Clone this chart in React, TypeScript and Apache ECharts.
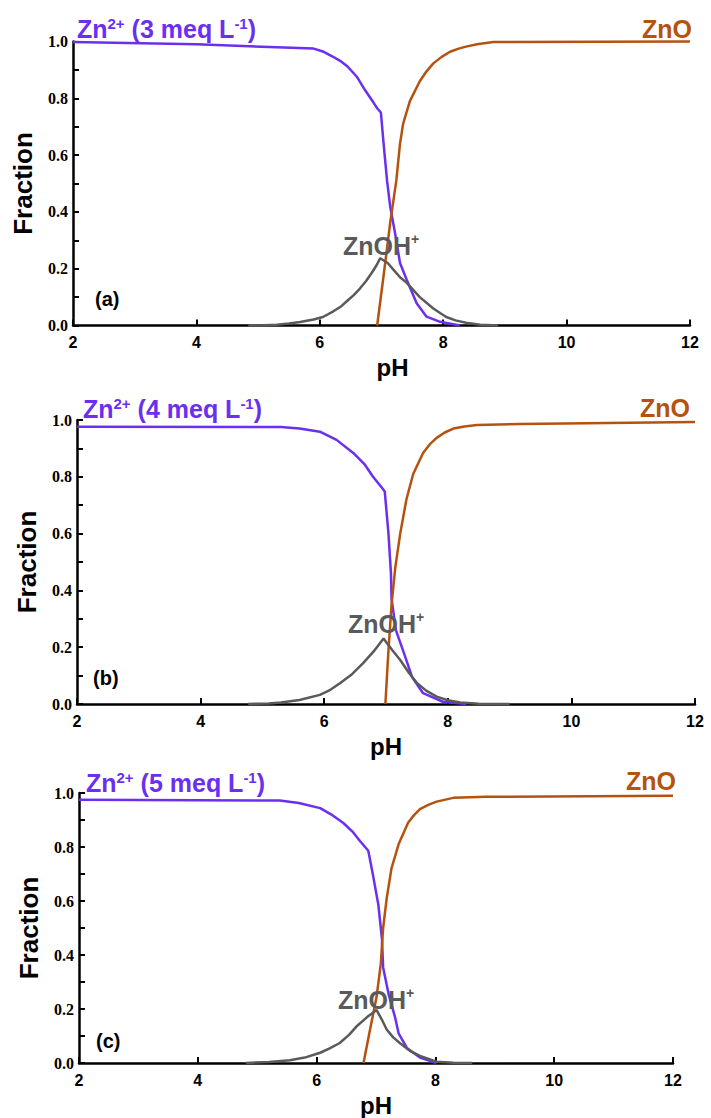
import React, { useEffect, useRef } from 'react';
import * as echarts from 'echarts';

// ---------- data (pH, fraction) ----------
const X_TICKS = [2, 4, 6, 8, 10, 12];
const Y_TICKS = [0, 0.2, 0.4, 0.6, 0.8, 1.0];

// Panel (a) 3 meq/L
const phZnA = [2, 4, 5.9, 6.05, 6.2, 6.33, 6.45, 6.6, 6.73, 6.87, 6.93, 6.99, 7.03, 7.09, 7.14, 7.22, 7.3, 7.41, 7.57, 7.73, 7.95, 8.27];
const znA = [0.998, 0.99, 0.975, 0.965, 0.948, 0.932, 0.912, 0.876, 0.83, 0.785, 0.765, 0.75, 0.65, 0.51, 0.42, 0.325, 0.22, 0.16, 0.078, 0.031, 0.013, 0];
const phZnOA = [6.93, 7.06, 7.14, 7.24, 7.3, 7.35, 7.46, 7.62, 7.73, 7.84, 7.97, 8.11, 8.25, 8.37, 8.55, 8.81, 12];
const znoA = [0, 0.22, 0.36, 0.51, 0.64, 0.71, 0.79, 0.86, 0.895, 0.923, 0.945, 0.964, 0.975, 0.982, 0.99, 0.998, 1.0];
const phOHA = [4.84, 5.1, 5.3, 5.5, 5.68, 5.9, 6.05, 6.22, 6.35, 6.45, 6.55, 6.65, 6.75, 6.84, 6.92, 6.98, 7.1, 7.2, 7.3, 7.41, 7.62, 7.84, 7.95, 8.05, 8.2, 8.37, 8.6, 8.89];
const ohA = [0, 0.001, 0.003, 0.007, 0.012, 0.021, 0.03, 0.05, 0.068, 0.088, 0.107, 0.13, 0.157, 0.185, 0.212, 0.237, 0.22, 0.195, 0.17, 0.15, 0.1, 0.06, 0.044, 0.03, 0.018, 0.01, 0.003, 0];

// Panel (b) 4 meq/L
const phZnB = [2, 5.3, 5.6, 5.93, 6.2, 6.47, 6.65, 6.79, 6.95, 6.98, 7.04, 7.08, 7.09, 7.16, 7.31, 7.42, 7.6, 7.92, 8.3];
const znB = [0.976, 0.975, 0.97, 0.959, 0.93, 0.884, 0.845, 0.8, 0.757, 0.748, 0.6, 0.46, 0.37, 0.26, 0.167, 0.096, 0.038, 0.008, 0];
const phZnOB = [6.99, 7.04, 7.09, 7.15, 7.23, 7.33, 7.44, 7.6, 7.71, 7.82, 7.95, 8.09, 8.27, 8.47, 9.17, 12];
const znoB = [0, 0.19, 0.35, 0.48, 0.6, 0.72, 0.81, 0.884, 0.915, 0.937, 0.956, 0.97, 0.977, 0.982, 0.986, 0.993];
const phOHB = [4.77, 5.1, 5.3, 5.6, 5.93, 6.1, 6.26, 6.45, 6.63, 6.8, 6.96, 7.1, 7.23, 7.37, 7.5, 7.65, 7.82, 8.0, 8.2, 8.5, 9.0];
const ohB = [0, 0.002, 0.005, 0.014, 0.032, 0.05, 0.074, 0.105, 0.144, 0.185, 0.231, 0.19, 0.155, 0.11, 0.074, 0.047, 0.026, 0.013, 0.005, 0.001, 0];

// Panel (c) 5 meq/L
const phZnC = [2, 5.38, 5.7, 6.06, 6.25, 6.45, 6.6, 6.73, 6.87, 6.95, 7.04, 7.1, 7.12, 7.21, 7.32, 7.38, 7.52, 7.74, 8.02];
const znC = [0.975, 0.972, 0.963, 0.944, 0.92, 0.889, 0.858, 0.822, 0.786, 0.695, 0.585, 0.46, 0.354, 0.257, 0.17, 0.11, 0.056, 0.02, 0];
const phZnOC = [6.79, 6.9, 7.01, 7.08, 7.12, 7.18, 7.26, 7.38, 7.54, 7.64, 7.74, 7.88, 8.02, 8.3, 8.86, 12];
const znoC = [0, 0.124, 0.245, 0.366, 0.5, 0.61, 0.72, 0.81, 0.89, 0.918, 0.94, 0.956, 0.968, 0.982, 0.986, 0.99];
const phOHC = [4.81, 5.2, 5.55, 5.8, 6.06, 6.22, 6.39, 6.55, 6.67, 6.85, 7.01, 7.1, 7.18, 7.29, 7.4, 7.57, 7.74, 8.02, 8.3, 8.62];
const ohC = [0, 0.004, 0.01, 0.02, 0.038, 0.054, 0.074, 0.105, 0.135, 0.17, 0.196, 0.16, 0.124, 0.095, 0.074, 0.045, 0.026, 0.005, 0.001, 0];

const CONCS = ['3', '4', '5'];
const PANEL_TAGS = ['(a)', '(b)', '(c)'];

// ---------- styling ----------
const PURPLE = '#6a2ff0';
const ORANGE = '#b5520f';
const GRAY = '#5a5a5a';
const SANS = 'Liberation Sans, Arial, sans-serif';
const SERIF = 'Liberation Serif, Times New Roman, serif';

const GRIDS = [
  { left: 73, top: 41.5, width: 617, height: 284 },
  { left: 77, top: 420, width: 618, height: 284 },
  { left: 79, top: 793, width: 594, height: 274 },
];

const zip = (xs: number[], ys: number[]) => xs.map((x, i) => [x, ys[i]]);

const PANELS = [
  { zn: zip(phZnA, znA), zno: zip(phZnOA, znoA), oh: zip(phOHA, ohA) },
  { zn: zip(phZnB, znB), zno: zip(phZnOB, znoB), oh: zip(phOHB, ohB) },
  { zn: zip(phZnC, znC), zno: zip(phZnOC, znoC), oh: zip(phOHC, ohC) },
];

// label positions (layout only)
const LABELS = [
  { znX: 77, znY: 29, znoX: 692, znoY: 29, ohX: 343, ohY: 246, tagX: 95, tagY: 299 },
  { znX: 83, znY: 409, znoX: 690, znoY: 408, ohX: 348, ohY: 624, tagX: 93, tagY: 678 },
  { znX: 86, znY: 783, znoX: 676, znoY: 781, ohX: 338, ohY: 1000, tagX: 96, tagY: 1041 },
];

export default function App() {
  const ref = useRef<HTMLDivElement>(null);

  useEffect(() => {
    if (!ref.current) return;
    const chart = echarts.init(ref.current, null, { renderer: 'svg' });

    const xAxis = GRIDS.map((_, i) => ({
      type: 'value',
      gridIndex: i,
      min: X_TICKS[0],
      max: X_TICKS[X_TICKS.length - 1],
      interval: 2,
      name: 'pH',
      nameLocation: 'middle',
      nameGap: 30,
      nameTextStyle: {
        fontFamily: SANS,
        fontWeight: 'bold',
        fontSize: 24,
        color: '#000',
        padding: [0, 0, 0, i === 0 ? 22 : 0],
      },
      axisLine: { show: true, lineStyle: { color: '#000', width: 2.5 } },
      axisTick: { show: true, inside: true, length: 6, lineStyle: { color: '#000', width: 2 } },
      axisLabel: {
        margin: 9,
        fontFamily: SANS,
        fontWeight: 'bold',
        fontSize: 16,
        color: '#000',
      },
      splitLine: { show: false },
    }));

    const yAxis = GRIDS.map((_, i) => ({
      type: 'value',
      gridIndex: i,
      min: Y_TICKS[0],
      max: Y_TICKS[Y_TICKS.length - 1],
      interval: 0.2,
      name: 'Fraction',
      nameLocation: 'middle',
      nameGap: 37,
      nameTextStyle: {
        fontFamily: SANS,
        fontWeight: 'bold',
        fontSize: 26,
        color: '#000',
      },
      axisLine: { show: true, lineStyle: { color: '#000', width: 2.5 } },
      axisTick: { show: true, inside: true, length: 6, lineStyle: { color: '#000', width: 2 } },
      minorTick: { show: true, splitNumber: 2, length: 6, lineStyle: { color: '#000', width: 2 } },
      axisLabel: {
        margin: 5,
        fontFamily: SERIF,
        fontWeight: 'bold',
        fontSize: 16,
        color: '#000',
        formatter: (v: number) => v.toFixed(1),
      },
      splitLine: { show: false },
    }));

    const series: any[] = [];
    PANELS.forEach((p, i) => {
      const common = {
        type: 'line',
        xAxisIndex: i,
        yAxisIndex: i,
        showSymbol: false,
        symbol: 'none',
        clip: false,
      };
      series.push({ ...common, name: 'Zn2+', data: p.zn, lineStyle: { color: PURPLE, width: 2.5 }, z: 2 });
      series.push({ ...common, name: 'ZnO', data: p.zno, lineStyle: { color: ORANGE, width: 2.5 }, z: 3 });
      series.push({ ...common, name: 'ZnOH+', data: p.oh, lineStyle: { color: GRAY, width: 2.5 }, z: 4 });
    });

    const graphic: any[] = [];
    LABELS.forEach((l, i) => {
      graphic.push({
        type: 'text',
        x: l.znX,
        y: l.znY,
        z: 10,
        style: {
          text: `{m|Zn}{s|2+}{m| (${CONCS[i]} meq L}{s|-1}{m|)}`,
          verticalAlign: 'middle',
          align: 'left',
          rich: {
            m: { fontFamily: SANS, fontWeight: 'bold', fontSize: 25, lineHeight: 26, fill: PURPLE },
            s: { fontFamily: SANS, fontWeight: 'bold', fontSize: 15, lineHeight: 15, fill: PURPLE, verticalAlign: 'top' },
          },
        },
      });
      graphic.push({
        type: 'text',
        x: l.znoX,
        y: l.znoY,
        z: 10,
        style: {
          text: 'ZnO',
          align: 'right',
          verticalAlign: 'middle',
          fontFamily: SANS,
          fontWeight: 'bold',
          fontSize: 25,
          fill: ORANGE,
        },
      });
      graphic.push({
        type: 'text',
        x: l.ohX,
        y: l.ohY,
        z: 10,
        style: {
          text: '{m|ZnOH}{s|+}',
          align: 'left',
          verticalAlign: 'middle',
          rich: {
            m: { fontFamily: SANS, fontWeight: 'bold', fontSize: 25, lineHeight: 28, fill: GRAY },
            s: { fontFamily: SANS, fontWeight: 'bold', fontSize: 14, lineHeight: 14, fill: GRAY, verticalAlign: 'top' },
          },
        },
      });
      graphic.push({
        type: 'text',
        x: l.tagX,
        y: l.tagY,
        z: 10,
        style: {
          text: PANEL_TAGS[i],
          align: 'left',
          verticalAlign: 'middle',
          fontFamily: SANS,
          fontWeight: 'bold',
          fontSize: 20,
          fill: '#000',
        },
      });
    });

    chart.setOption({
      animation: false,
      backgroundColor: '#fff',
      grid: GRIDS.map((g) => ({ ...g, containLabel: false })),
      xAxis,
      yAxis,
      series,
      graphic,
    });

    return () => chart.dispose();
  }, []);

  return (
    <div
      ref={ref}
      style={{ position: 'absolute', left: 0, top: 0, width: 711, height: 1118 }}
    />
  );
}
